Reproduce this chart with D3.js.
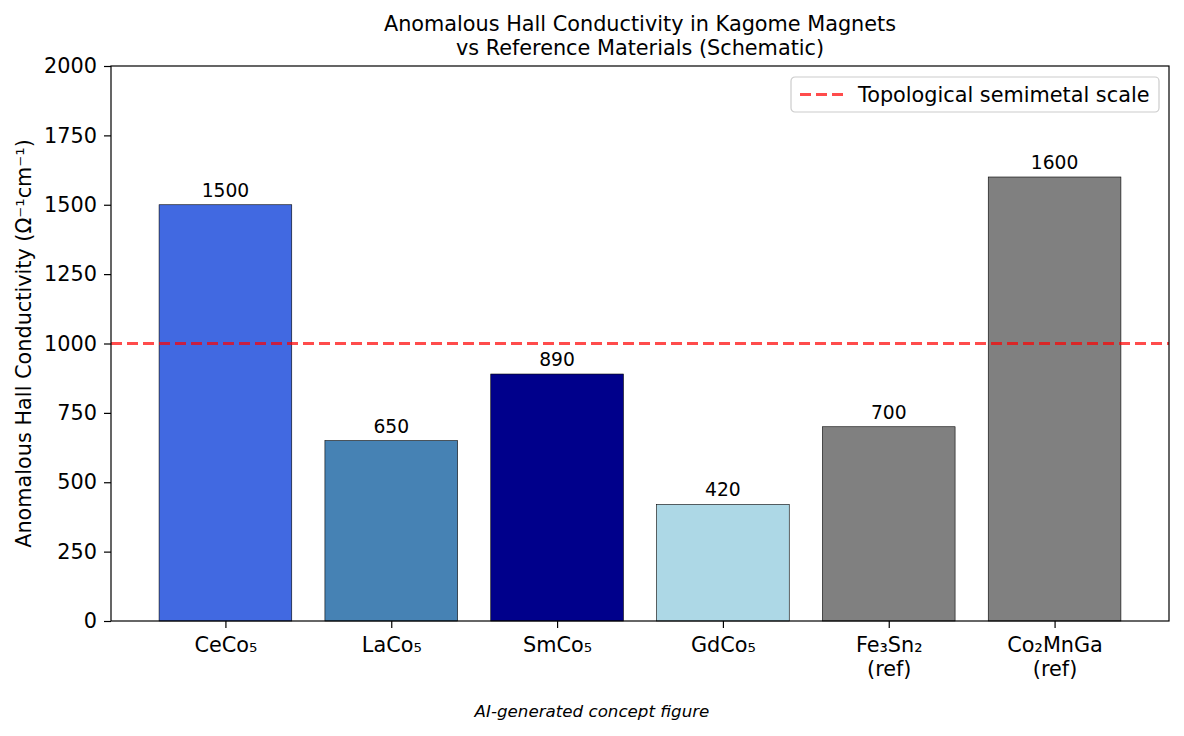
<!DOCTYPE html>
<html>
<head>
<meta charset="utf-8">
<script src="https://cdn.jsdelivr.net/npm/d3@7"></script>
<style>
  body { margin: 0; background: #fff; }
  text { font-family: "DejaVu Sans", sans-serif; fill: #000; }
</style>
</head>
<body>
<svg id="chart" width="1184" height="736"></svg>
<script>
// data
const materials = ["CeCo₅", "LaCo₅", "SmCo₅", "GdCo₅", "Fe₃Sn₂\n(ref)", "Co₂MnGa\n(ref)"];
const ahcValues = [1500, 650, 890, 420, 700, 1600];
const barColors = ["#4169e1", "#4682b4", "#00008b", "#add8e6", "#808080", "#808080"];
const yTicks = [0, 250, 500, 750, 1000, 1250, 1500, 1750, 2000];
const refLine = 1000;

const svg = d3.select("#chart");
const margin = { left: 111, right: 1169, top: 66, bottom: 621 };
const fs = "20.8px";

// matplotlib style band: bar width 0.8, 5% margins
const x = d3.scaleLinear()
  .domain([-0.69, materials.length - 1 + 0.69])
  .range([margin.left, margin.right]);
const barW = x(0.8) - x(0);

const y = d3.scaleLinear()
  .domain([0, 2000])
  .range([margin.bottom, margin.top]);

// bars
svg.append("g")
  .selectAll("rect")
  .data(ahcValues)
  .join("rect")
  .attr("x", (d, i) => x(i) - barW / 2)
  .attr("y", d => y(d))
  .attr("width", barW)
  .attr("height", d => y(0) - y(d))
  .attr("fill", (d, i) => barColors[i])
  .attr("stroke", "#000")
  .attr("stroke-width", 0.6);

// value labels
svg.append("g")
  .selectAll("text")
  .data(ahcValues)
  .join("text")
  .attr("x", (d, i) => x(i))
  .attr("y", d => y(d) - 8)
  .attr("text-anchor", "middle")
  .style("font-size", "18.7px")
  .text(d => d);

// reference line
svg.append("line")
  .attr("x1", margin.left)
  .attr("x2", margin.right)
  .attr("y1", y(refLine))
  .attr("y2", y(refLine))
  .attr("stroke", "#ff0000")
  .attr("stroke-opacity", 0.7)
  .attr("stroke-width", 3)
  .attr("stroke-dasharray", "11,5");

// axes
const yAxis = svg.append("g")
  .attr("transform", `translate(${margin.left},0)`)
  .call(d3.axisLeft(y).tickValues(yTicks).tickSize(7).tickPadding(7).tickFormat(d3.format("d")));
yAxis.selectAll("text").style("font-size", fs);

const xAxis = svg.append("g")
  .attr("transform", `translate(0,${margin.bottom})`)
  .call(d3.axisBottom(x).tickValues(d3.range(materials.length)).tickSize(7).tickFormat(""));

xAxis.selectAll(".tick").each(function(d) {
  const lines = materials[d].split("\n");
  const t = d3.select(this).append("text")
    .attr("text-anchor", "middle")
    .attr("y", 31)
    .style("font-size", fs);
  lines.forEach((ln, k) => {
    t.append("tspan").attr("x", 0).attr("dy", k === 0 ? 0 : 24).text(ln);
  });
});

svg.selectAll(".domain").remove();
svg.selectAll(".tick line").attr("stroke", "#000").attr("stroke-width", 1.2);

// frame
svg.append("rect")
  .attr("x", margin.left)
  .attr("y", margin.top)
  .attr("width", margin.right - margin.left)
  .attr("height", margin.bottom - margin.top)
  .attr("fill", "none")
  .attr("stroke", "#000")
  .attr("stroke-width", 1.2);

// title
const cx = (margin.left + margin.right) / 2;
const title = svg.append("text")
  .attr("x", cx)
  .attr("y", 31)
  .attr("text-anchor", "middle")
  .style("font-size", fs);
title.append("tspan").attr("x", cx).text("Anomalous Hall Conductivity in Kagome Magnets");
title.append("tspan").attr("x", cx).attr("dy", 23.5).text("vs Reference Materials (Schematic)");

// y label
svg.append("text")
  .attr("transform", `translate(31,${(margin.top + margin.bottom) / 2}) rotate(-90)`)
  .attr("text-anchor", "middle")
  .style("font-size", fs)
  .text("Anomalous Hall Conductivity (Ω⁻¹cm⁻¹)");

// legend
const legend = svg.append("g").attr("transform", "translate(791,77)");
legend.append("rect")
  .attr("width", 368)
  .attr("height", 35)
  .attr("rx", 4)
  .attr("fill", "#fff")
  .attr("fill-opacity", 0.8)
  .attr("stroke", "#ccc")
  .attr("stroke-width", 1.2);
legend.append("line")
  .attr("x1", 9).attr("x2", 52)
  .attr("y1", 17.5).attr("y2", 17.5)
  .attr("stroke", "#ff0000")
  .attr("stroke-opacity", 0.7)
  .attr("stroke-width", 3)
  .attr("stroke-dasharray", "11,5");
legend.append("text")
  .attr("x", 67)
  .attr("y", 25)
  .style("font-size", fs)
  .text("Topological semimetal scale");

// footer note
svg.append("text")
  .attr("x", 592)
  .attr("y", 717)
  .attr("text-anchor", "middle")
  .style("font-size", "16.7px")
  .style("font-style", "italic")
  .text("AI-generated concept figure");
</script>
</body>
</html>
